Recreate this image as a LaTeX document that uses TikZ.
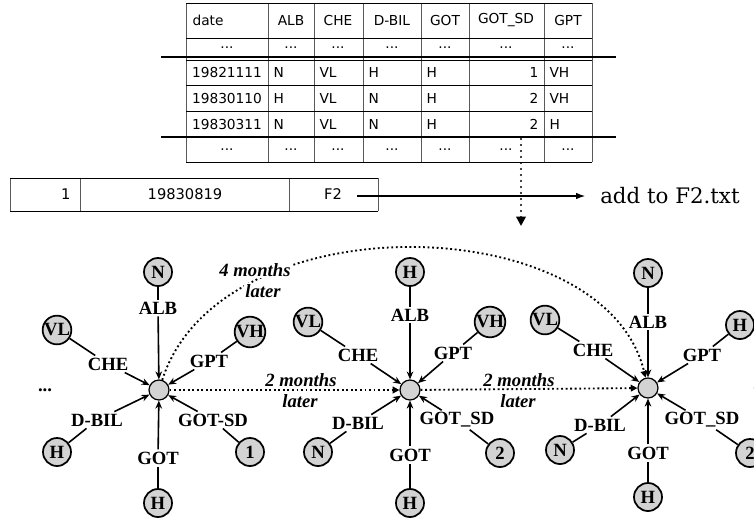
\documentclass[tikz,border=0pt]{standalone}
\usepackage{fontspec}
\newfontfamily\tabfont{DejaVu Sans}
\newfontfamily\labfont{Liberation Serif}
\newfontfamily\notefont{DejaVu Serif}
\usetikzlibrary{arrows.meta}
\definecolor{ValGray}{RGB}{211,211,211}
\definecolor{RuleGray}{RGB}{90,90,90}
\tikzset{
  >=Latex,
  cell/.style={font=\tabfont\fontsize{10.3}{12}\selectfont,inner sep=1pt},
  hub/.style={circle,draw,line width=0.9pt,fill=ValGray,minimum size=15pt,inner sep=0pt},
  val/.style={circle,draw,line width=1.3pt,fill=ValGray,minimum size=21pt,inner sep=0pt,font=\labfont\bfseries\fontsize{14}{14}\selectfont},
  attr/.style={font=\labfont\bfseries\fontsize{14}{14}\selectfont,inner sep=1.5pt},
  when/.style={font=\labfont\bfseries\itshape\fontsize{14}{14}\selectfont,inner sep=1pt},
  link/.style={line width=1.2pt},
  feed/.style={-{Stealth[length=6pt,width=5pt]},line width=1.2pt},
  later/.style={-{Triangle[length=5pt,width=5pt]},line width=1.4pt,dotted},
  pick/.style={-{Triangle[length=7pt,width=7pt]},line width=1.8pt,dash pattern=on 0pt off 4.5pt,line cap=round},
  thinrule/.style={line width=0.7pt},
  thickrule/.style={line width=1.6pt}
}
\begin{document}
\begin{tikzpicture}[x=0.75pt,y=-0.75pt]
  \useasboundingbox (0,0) rectangle (754,522);
  \clip (0,0) rectangle (754,522);
  % the table of daily records
  \foreach \x in {186,268,314,363,421,469,544,592} \draw[thinrule,RuleGray] (\x,3) -- (\x,162);
  \foreach \y in {3,38,60,85,111,162} \draw[thinrule] (186,\y) -- (592,\y);
  \foreach \y in {57,137} \draw[thickrule] (161,\y) -- (616,\y);
  \node[cell,anchor=west] (hdate) at (191,20) {date};
  \foreach \x/\t [count=\i] in {291/ALB,338/CHE,392/D-BIL,445/GOT,506/GOT\_SD,568/GPT}
    \node[cell] (hcol\i) at (\x,20) {\t};
  \foreach \y/\r in {48/a,150/b}
    \foreach \x [count=\i] in {227,291,338,392,445,506,568}
      \node[cell] (dot\r\i) at (\x,\y) {...};
  \foreach \rowy/\rdate/\ralb/\rche/\rbil/\rgot/\rsd/\rgpt [count=\r] in {
    72/19821111/N/VL/H/H/1/VH,98/19830110/H/VL/N/H/2/VH,124/19830311/N/VL/N/H/2/H}{
    \node[cell] (date\r) at (227,\rowy) {\rdate};
    \node[cell,anchor=west] (alb\r) at (272,\rowy) {\ralb};
    \node[cell,anchor=west] (che\r) at (318,\rowy) {\rche};
    \node[cell,anchor=west] (bil\r) at (367,\rowy) {\rbil};
    \node[cell,anchor=west] (got\r) at (425,\rowy) {\rgot};
    \node[cell,anchor=east] (gsd\r) at (540,\rowy) {\rsd};
    \node[cell,anchor=west] (gpt\r) at (548,\rowy) {\rgpt};
  }
  % the new record
  \foreach \x in {10,80,289,378} \draw[thinrule,RuleGray] (\x,178) -- (\x,211);
  \foreach \y in {178,211} \draw[thinrule] (10,\y) -- (378,\y);
  \node[cell,anchor=east,font=\tabfont\fontsize{11}{12}\selectfont] (nrow) at (72,194) {1};
  \node[cell,font=\tabfont\fontsize{11}{12}\selectfont] (ndate) at (185,194) {19830819};
  \node[cell,font=\tabfont\fontsize{11}{12}\selectfont] (nfile) at (333,194) {F2};
  \node[anchor=west,inner sep=0pt,font=\notefont\fontsize{16}{18}\selectfont] (addf) at (600,196) {add to F2.txt};
  \coordinate (fout) at (357,196);
  \draw[-{Latex[length=7pt,width=5pt]},line width=1.1pt,shorten >=11pt] (fout) -- (addf.west);
  \coordinate (sdtop) at (521,139);
  \coordinate (sdbot) at (521,226);
  \draw[pick] (sdtop) -- (sdbot);
  % hubs with their attribute spokes
  \foreach \h/\hx/\hy in {1/159/390,2/410/390,3/648/388}
    \node[hub] (h\h) at (\hx,\hy) {};
  \foreach \h/\k/\txt/\lx/\ly/\vtxt/\vx/\vy in {
    1/1/ALB/158/308/N/158/272, 1/2/CHE/108/364/VL/57/330,
    1/3/GPT/209/361/VH/250/332, 1/4/D-BIL/97/420/H/57/452,
    1/5/GOT-SD/213/420/1/250/452, 1/6/GOT/158/458/H/158/503,
    2/1/ALB/410/315/H/410/272, 2/2/CHE/358/355/VL/308/322,
    2/3/GPT/453/353/VH/490/322, 2/4/D-BIL/358/423/N/318/452,
    2/5/GOT\_SD/457/420/2/500/453, 2/6/GOT/410/455/H/410/503,
    3/1/ALB/648/322/N/648/273, 3/2/CHE/593/350/VL/545/320,
    3/3/GPT/702/355/H/740/325, 3/4/D-BIL/600/425/N/560/450,
    3/5/GOT\_SD/702/420/2/750/453, 3/6/GOT/648/453/H/648/497}{
    \node[attr] (l\h\k) at (\lx,\ly) {\txt};
    \node[val] (v\h\k) at (\vx,\vy) {\vtxt};
    \draw[link] (v\h\k) -- (l\h\k);
    \draw[feed] (l\h\k) -- (h\h);
  }
  \node[attr] (more1) at (45,390) {...};
  \node[attr] (more2) at (760,388) {...};
  % time steps
  \draw[later] (h1) -- (h2);
  \draw[later] (h2) -- (h3);
  \node[when] (t1a) at (301,380) {2 months};
  \node[when] (t1b) at (300,401) {later};
  \node[when] (t2a) at (519,380) {2 months};
  \node[when] (t2b) at (518,401) {later};
  \draw[later] (h1) .. controls (220,200) and (605,208) .. (h3);
  \node[when,fill=white] (t3a) at (255,270) {4 months};
  \node[when,fill=white] (t3b) at (263,291) {later};
\end{tikzpicture}
\end{document}
